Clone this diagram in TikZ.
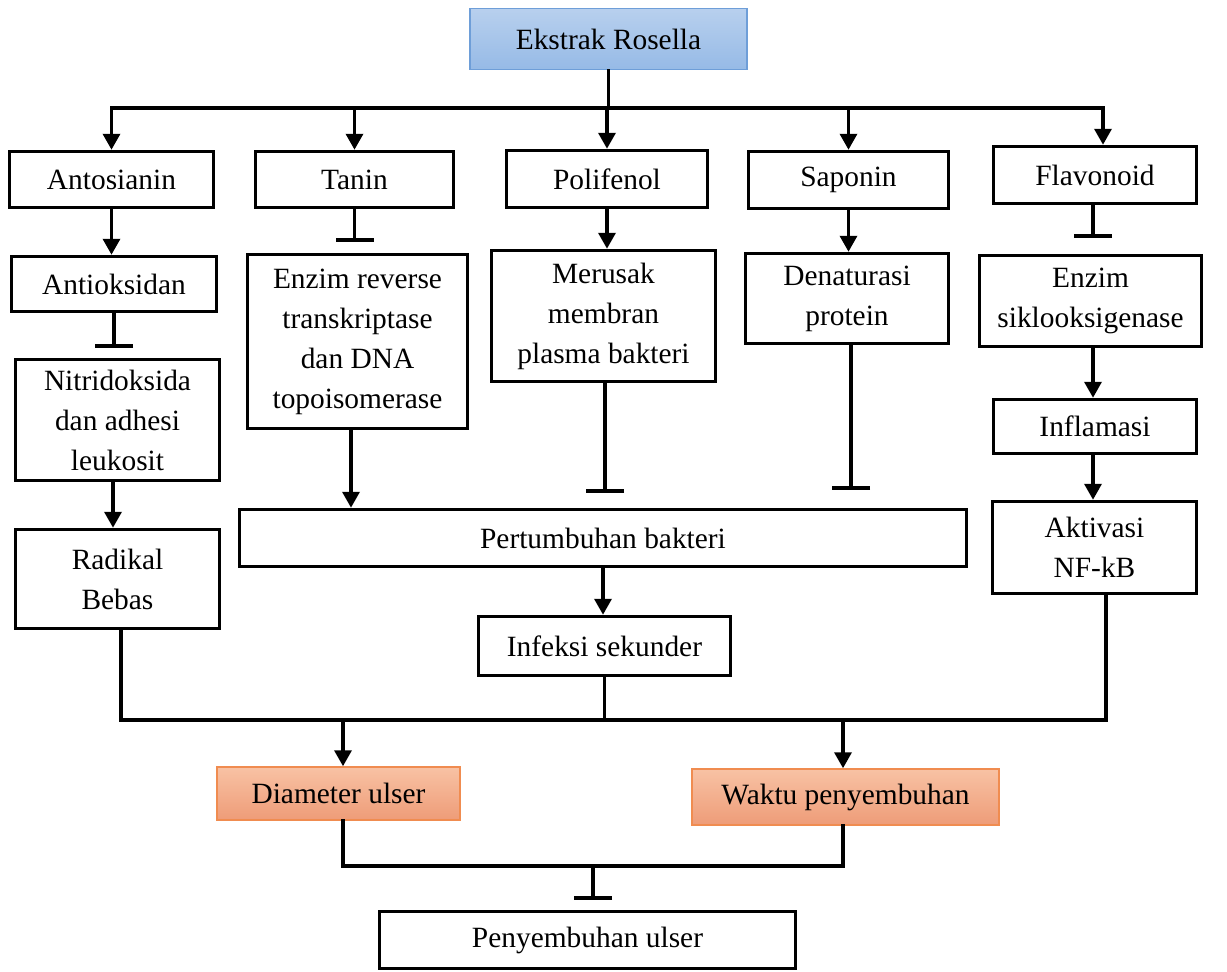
\documentclass[tikz,border=0pt]{standalone}
\usepackage{fontspec}
\setmainfont{Liberation Serif}
\usetikzlibrary{arrows.meta,calc}
\definecolor{blueTop}{RGB}{184,208,238}
\definecolor{blueBot}{RGB}{150,186,230}
\definecolor{blueBrd}{RGB}{110,158,216}
\definecolor{orTop}{RGB}{248,194,164}
\definecolor{orBot}{RGB}{238,156,120}
\definecolor{orBrd}{RGB}{240,140,80}
\begin{document}
\begin{tikzpicture}[x=1pt,y=-1pt,
 box/.style={draw=black,line width=3.5pt,fill=white,inner sep=0pt,align=center,
   font=\fontsize{29.4}{40}\selectfont},
 ln/.style={line width=3.5pt,line cap=rect},
 arr/.style={line width=3.5pt,-{Triangle[width=17pt,length=16pt]}},
 inh/.style={line width=3.5pt,-{Bar[width=38pt]}},
]
\useasboundingbox (0,0) rectangle (1227,972);
\fill[white] (0,0) rectangle (1227,972);

% nodes
\node[box,line width=1.5pt,draw=blueBrd,top color=blueTop,bottom color=blueBot,
  minimum width=277pt,minimum height=61pt] (ekstrak) at (608.5,39) {Ekstrak Rosella};

\node[box,minimum width=204pt,minimum height=56pt] (anto) at (111.5,179.5) {Antosianin};
\node[box,minimum width=198pt,minimum height=56pt] (tanin) at (354.5,179.5) {Tanin};
\node[box,minimum width=201pt,minimum height=57pt] (poli) at (607,179) {Polifenol};
\node[box,minimum width=200pt,minimum height=57pt] (sapo) at (848.5,180) {Saponin};
\node[box,minimum width=203pt,minimum height=57pt] (flav) at (1095,175) {Flavonoid};

\node[box,minimum width=205pt,minimum height=55pt] (antiok) at (114,284) {Antioksidan};
\node[box,minimum width=204pt,minimum height=121pt] (nitri) at (117.5,420) {Nitridoksida\\dan adhesi\\leukosit};
\node[box,minimum width=204pt,minimum height=99pt] (radikal) at (117.5,579) {Radikal\\Bebas};

\node[box,minimum width=220pt,minimum height=174pt] (enzrev) at (357.5,341.5) {Enzim reverse\\transkriptase\\dan DNA\\topoisomerase};
\node[box,minimum width=224pt,minimum height=131pt] (merusak) at (603.5,316) {Merusak\\membran\\plasma bakteri};
\node[box,minimum width=203pt,minimum height=90pt] (denat) at (847,298.5) {Denaturasi\\protein};

\node[box,minimum width=222pt,minimum height=91pt] (enzsik) at (1090.5,301) {Enzim\\siklooksigenase};
\node[box,minimum width=203pt,minimum height=54pt] (inflam) at (1095,426.5) {Inflamasi};
\node[box,minimum width=204pt,minimum height=92pt] (aktiv) at (1094.5,547.5) {Aktivasi\\NF-kB};

\node[box,minimum width=727pt,minimum height=57pt] (pertum) at (603,538) {Pertumbuhan bakteri};
\node[box,minimum width=252pt,minimum height=59pt] (infeksi) at (604.5,646) {Infeksi sekunder};

\node[box,line width=1.5pt,draw=orBrd,top color=orTop,bottom color=orBot,
  minimum width=243pt,minimum height=53pt] (diam) at (338.5,793.5) {Diameter ulser};
\node[box,line width=1.5pt,draw=orBrd,top color=orTop,bottom color=orBot,
  minimum width=307pt,minimum height=56pt] (waktu) at (845.5,797) {Waktu penyembuhan};

\node[box,minimum width=416pt,minimum height=57pt] (peny) at (587.5,940) {Penyembuhan ulser};

% top bus
\coordinate (busT) at (606,108);
\coordinate (fdrop) at ([xshift=8pt]flav.north);
\draw[ln] (ekstrak.south) -- (ekstrak.south |- busT);
\draw[ln] (anto.north |- busT) -- (fdrop |- busT);
\draw[arr] (anto.north |- busT) -- (anto.north);
\draw[arr] (tanin.north |- busT) -- (tanin.north);
\draw[arr] (poli.north |- busT) -- (poli.north);
\draw[arr] (sapo.north |- busT) -- (sapo.north);
\draw[arr] (fdrop |- busT) -- (fdrop);

% left column
\draw[arr] (anto.south) -- (anto.south |- antiok.north);
\draw[inh,shorten >=10pt] (antiok.south) -- (antiok.south |- nitri.north);
\coordinate (nx) at ([xshift=-4.5pt]nitri.south);
\draw[arr] (nx) -- (nx |- radikal.north);

% tanin column
\draw[inh,shorten >=11pt] (tanin.south) -- (tanin.south |- enzrev.north);
\coordinate (ex) at ([xshift=-6.5pt]enzrev.south);
\draw[arr] (ex) -- (ex |- pertum.north);

% polifenol column
\draw[arr] (poli.south) -- (poli.south |- merusak.north);
\coordinate (mx) at ([xshift=1.5pt]merusak.south);
\draw[inh,shorten >=15pt] (mx) -- (mx |- pertum.north);

% saponin column
\draw[arr] (sapo.south) -- (sapo.south |- denat.north);
\coordinate (dx) at ([xshift=4pt]denat.south);
\draw[inh,shorten >=18pt] (dx) -- (dx |- pertum.north);

% flavonoid column
\coordinate (fx) at ([xshift=-2pt]flav.south);
\draw[inh,shorten >=16pt] (fx) -- (fx |- enzsik.north);
\coordinate (sx) at ([xshift=2.5pt]enzsik.south);
\draw[arr] (sx) -- (sx |- inflam.north);
\coordinate (ix) at ([xshift=-2pt]inflam.south);
\draw[arr] (ix) -- (ix |- aktiv.north);

% center
\draw[arr] (pertum.south) -- (pertum.south |- infeksi.north);

% lower bus
\coordinate (busB) at (605,720);
\coordinate (rb) at ([xshift=3.5pt]radikal.south);
\coordinate (ab) at ([xshift=11.5pt]aktiv.south);
\draw[ln] (rb) |- (busB) -| (ab);
\draw[ln] (infeksi.south) -- (infeksi.south |- busB);
\coordinate (dn) at ([xshift=4.5pt]diam.north);
\coordinate (wn) at ([xshift=-2.5pt]waktu.north);
\draw[arr] (dn |- busB) -- (dn);
\draw[arr] (wn |- busB) -- (wn);

% bottom
\coordinate (busC) at (593,866);
\coordinate (ds) at ([xshift=4.5pt]diam.south);
\coordinate (ws) at ([xshift=-2.5pt]waktu.south);
\draw[ln] (ds) |- (busC) -| (ws);
\draw[inh,shorten >=10pt] (busC) -- (busC |- peny.north);
\end{tikzpicture}
\end{document}
